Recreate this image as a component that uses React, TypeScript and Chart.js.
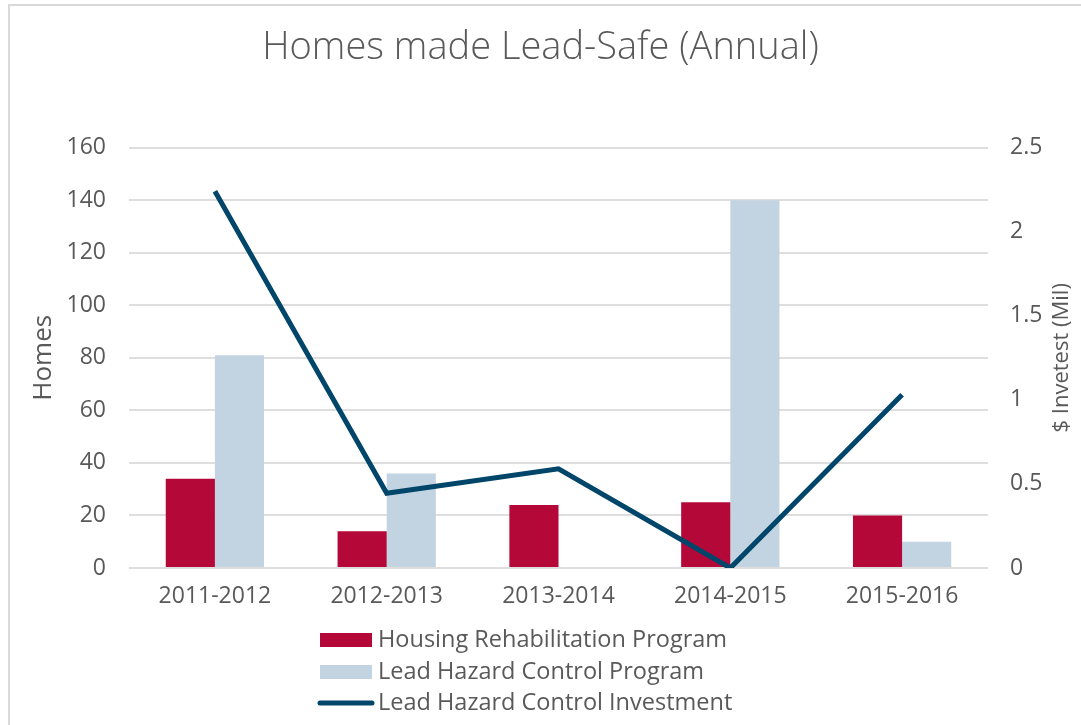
import React, { useEffect, useRef } from "react";
import { Chart, registerables } from "chart.js";

Chart.register(...registerables);

const categories = ["2011-2012", "2012-2013", "2013-2014", "2014-2015", "2015-2016"];
const housingRehab = [34, 14, 24, 25, 20];
const leadHazardProgram = [81, 36, null, 140, 10];
const leadHazardInvestment = [2.24, 0.445, 0.59, 0, 1.03];

const TEXT = "#595959";
const FONT = "'Open Sans', sans-serif";

const framePlugin = {
  id: "frame",
  beforeDraw(chart: any) {
    const ctx = chart.ctx;
    ctx.save();
    ctx.fillStyle = "#ffffff";
    ctx.fillRect(0, 0, chart.width, chart.height);
    ctx.strokeStyle = "#d9d9d9";
    ctx.lineWidth = 2;
    ctx.strokeRect(9, 5, chart.width + 100, chart.height + 100);
    ctx.restore();
  },
};

const extrasPlugin = {
  id: "extras",
  afterDraw(chart: any) {
    const ctx = chart.ctx;
    const area = chart.chartArea;
    ctx.save();
    // right axis title, reading bottom-to-top
    ctx.fillStyle = TEXT;
    ctx.font = `22px ${FONT}`;
    ctx.textAlign = "center";
    ctx.textBaseline = "middle";
    ctx.translate(area.right + 74, (area.top + area.bottom) / 2);
    ctx.rotate(-Math.PI / 2);
    ctx.fillText("$ Invetest (Mil)", 0, 0);
    ctx.restore();

    // legend
    ctx.save();
    const x0 = area.left + 191;
    const rowY = [area.bottom + 72, area.bottom + 104, area.bottom + 135];
    chart.data.datasets.forEach((ds: any, i: number) => {
      const y = rowY[i];
      if (ds.type === "line") {
        ctx.strokeStyle = ds.borderColor;
        ctx.lineWidth = 5;
        ctx.lineCap = "round";
        ctx.beginPath();
        ctx.moveTo(x0, y);
        ctx.lineTo(x0 + 52, y);
        ctx.stroke();
      } else {
        ctx.fillStyle = ds.backgroundColor;
        ctx.fillRect(x0, y - 7, 52, 14);
      }
      ctx.fillStyle = TEXT;
      ctx.font = `23.5px ${FONT}`;
      ctx.textAlign = "left";
      ctx.textBaseline = "middle";
      ctx.fillText(ds.label, x0 + 58, y);
    });
    ctx.restore();
  },
};

export default function App() {
  const ref = useRef<HTMLCanvasElement>(null);
  useEffect(() => {
    if (!ref.current) return;
    const chart = new Chart(ref.current, {
      type: "bar",
      data: {
        labels: categories,
        datasets: [
          {
            type: "bar",
            label: "Housing Rehabilitation Program",
            data: housingRehab,
            backgroundColor: "#b30838",
            yAxisID: "y",
            order: 1,
            categoryPercentage: 0.572,
            barPercentage: 1,
          },
          {
            type: "bar",
            label: "Lead Hazard Control Program",
            data: leadHazardProgram as any,
            backgroundColor: "#c2d3e1",
            yAxisID: "y",
            order: 1,
            categoryPercentage: 0.572,
            barPercentage: 1,
          },
          {
            type: "line",
            label: "Lead Hazard Control Investment",
            data: leadHazardInvestment,
            borderColor: "#00466b",
            backgroundColor: "#00466b",
            borderWidth: 5,
            pointRadius: 0,
            tension: 0,
            yAxisID: "y1",
            order: 0,
          } as any,
        ],
      },
      options: {
        animation: false,
        responsive: true,
        maintainAspectRatio: false,
        layout: { padding: 0 },
        plugins: {
          legend: { display: false },
          tooltip: { enabled: false },
          title: {
            display: true,
            text: "Homes made Lead-Safe (Annual)",
            color: TEXT,
            font: { family: FONT, size: 38, weight: "300" as any, lineHeight: 1.2 },
            padding: { top: 25, bottom: 77 },
          },
        },
        scales: {
          x: {
            grid: { display: false, drawTicks: false },
            border: { display: false },
            ticks: { color: TEXT, font: { family: FONT, size: 23 }, padding: 15, maxRotation: 0 },
            afterFit(scale: any) {
              scale.height = 157;
            },
          },
          y: {
            position: "left",
            min: 0,
            max: 160,
            ticks: { stepSize: 20, color: TEXT, font: { family: FONT, size: 23 }, padding: 23 },
            grid: { color: "#dedede", lineWidth: 2, drawTicks: false },
            border: { display: false },
            title: {
              display: true,
              text: "Homes",
              color: TEXT,
              font: { family: FONT, size: 26 },
              padding: { top: 28, bottom: 0 },
            },
            afterFit(scale: any) {
              scale.width = 129;
            },
          },
          y1: {
            position: "right",
            min: 0,
            max: 2.5,
            ticks: {
              stepSize: 0.5,
              color: TEXT,
              font: { family: FONT, size: 23 },
              padding: 22,
              callback: (v: any) => String(Number(v)),
            },
            grid: { display: false, drawTicks: false },
            border: { display: false },
            afterFit(scale: any) {
              scale.width = 93;
            },
          },
        },
      },
      plugins: [framePlugin, extrasPlugin],
    });
    return () => chart.destroy();
  }, []);
  return (
    <div style={{ position: "fixed", left: 0, top: 0, width: 1081, height: 725 }}>
      <canvas ref={ref} />
    </div>
  );
}
